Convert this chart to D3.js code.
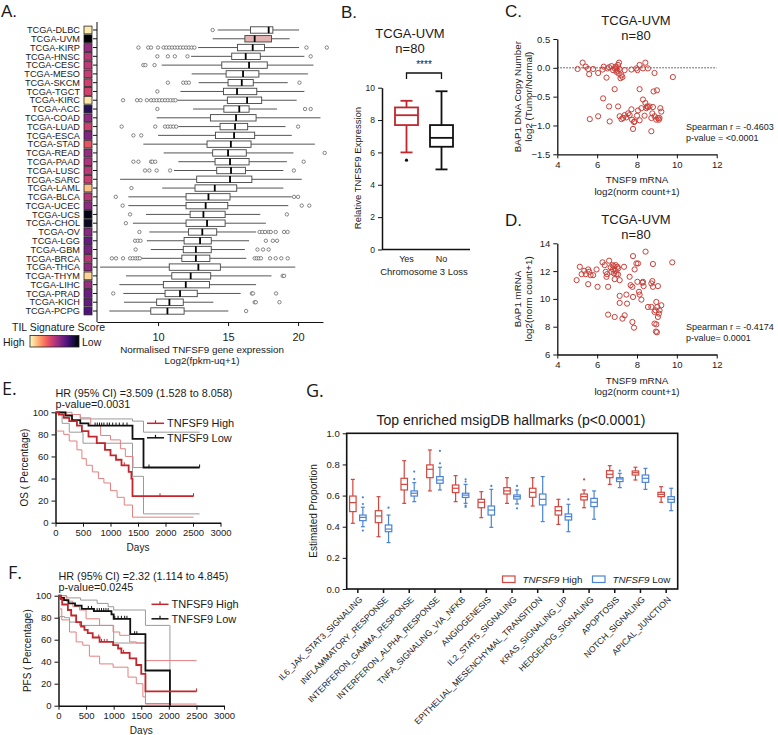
<!DOCTYPE html>
<html>
<head>
<meta charset="utf-8">
<script src="https://cdn.jsdelivr.net/npm/d3@7"></script>
<style>
    body { margin: 0; background: #fff; font-family: "Liberation Sans", Arial, sans-serif; }
    svg text { fill: #1a1a1a; }
    .tick text { font-size: 9.5px; fill: #222; }
    .tick line, .domain { stroke: #111; }
</style>
</head>
<body>
<svg id="fig" width="778" height="735"></svg>
<script>

// ---------- Panel A data ----------
var cancerTypes = ["TCGA-DLBC","TCGA-UVM","TCGA-KIRP","TCGA-HNSC","TCGA-CESC","TCGA-MESO","TCGA-SKCM",
    "TCGA-TGCT","TCGA-KIRC","TCGA-ACC","TCGA-COAD","TCGA-LUAD","TCGA-ESCA","TCGA-STAD","TCGA-READ",
    "TCGA-PAAD","TCGA-LUSC","TCGA-SARC","TCGA-LAML","TCGA-BLCA","TCGA-UCEC","TCGA-UCS","TCGA-CHOL",
    "TCGA-OV","TCGA-LGG","TCGA-GBM","TCGA-BRCA","TCGA-THCA","TCGA-THYM","TCGA-LIHC","TCGA-PRAD",
    "TCGA-KICH","TCGA-PCPG"];
// TIL signature score (0 = low, 1 = high)
var tilScore = [0.96,0.0,0.42,0.51,0.52,0.54,0.56,0.57,0.95,0.16,0.41,0.56,0.37,0.63,0.42,
    0.48,0.51,0.55,0.87,0.51,0.40,0.04,0.07,0.39,0.30,0.35,0.51,0.41,0.91,0.43,0.32,0.30,0.25];
var whiskLo = [14.26,13.9,12.86,12.36,10.26,12.4,12.9,11.6,11.38,12.5,9.9,11.45,10.0,8.95,10.4,
    11.45,11.14,7.29,10.3,7.88,7.88,9.14,8.2,9.38,9.2,9.48,8.8,5.86,7.71,7.24,7.52,7.57,6.52];
var boxQ1 = [16.6,16.2,15.67,15.26,14.55,14.86,15.0,14.67,14.95,14.7,13.74,14.43,14.1,13.5,13.9,
    14.07,14.19,12.76,12.64,12.0,12.0,12.29,12.0,12.17,11.86,11.8,11.7,10.8,10.98,10.38,10.5,9.9,9.48];
var boxMed = [17.9,16.9,16.76,16.26,16.5,16.07,15.98,15.64,16.36,15.8,15.57,15.5,15.43,15.2,15.0,
    15.14,15.21,15.14,14.05,13.6,13.4,13.24,13.5,13.16,13.0,12.7,12.7,12.88,12.33,11.98,11.57,10.81,10.67];
var boxQ3 = [18.2,18.1,17.6,17.3,17.8,17.2,16.8,17.05,17.4,16.5,17.0,16.4,16.9,16.64,16.3,
    16.5,16.24,16.7,15.62,15.14,14.98,14.79,14.79,14.19,13.8,13.8,13.7,14.45,13.76,13.67,12.8,11.8,11.86];
var whiskHi = [20.07,19.4,20.07,20.45,21.1,20.7,19.26,20.45,19.9,18.5,21.6,19.1,19.55,21.2,19.67,
    19.2,18.95,20.26,18.95,19.55,19.3,17.3,17.7,17.0,16.5,16.2,16.3,19.8,18.1,17.0,15.9,13.95,15.02];
var outliersA = [
    [13.9], [],
    [8.6,9.3,9.5,10.0,10.4,10.6,10.8,11.0,11.2,11.4,11.6,11.8,12.0,12.2,12.4,12.6,20.6,22.05],
    [9.95,10.7,11.2,12.1,20.9], [8.95,9.1,9.75], [], [10.7,11.8,12.0,12.2,20.1], [9.95],
    [7.5,8.5,8.75,9.2,9.5,9.7,9.9,10.1,10.3,10.5,10.7,10.9,11.1,11.25], [9.95,20.5,20.9], [],
    [7.4,9.8,10.5,10.7,10.9,11.1,11.3,20.0], [8.24,8.8], [], [21.9],
    [8.24,8.6,9.5,9.6,9.8,20.4], [9.07,9.38,9.9,10.86,19.7], [], [8.1], [6.98,19.71,20.0],
    [7.47,20.26,20.8], [8.0,19.2], [7.7],
    [8.67,17.25,17.45,17.65,17.9,18.05,18.4,19.0,19.25], [8.36,8.55,8.75,17.7,18.2,18.5],
    [8.4,17.1,17.5,17.9],
    [6.7,7.0,7.5,8.0,8.2,8.4,8.55,8.7,16.9,17.05,17.2,17.35,18.0,18.4,18.8,19.26],
    [], [18.9,19.0], [], [6.8,16.7,16.78,18.43], [16.9,16.98,18.67], [16.29]];
var xTicksA = [10, 15, 20];

// ---------- Panel B data ----------
var chr3Groups = ["Yes", "No"];
var chr3Stats = [[6.0,7.69,8.3,8.78,9.19],[4.95,6.35,6.9,7.69,9.78]]; // lo, q1, med, q3, hi
var chr3Outliers = [[5.52], []];

// ---------- Panel C data: TNSF9 mRNA vs BAP1 copy number ----------
var cnTnf = [5.02,5.27,5.43,5.55,5.60,5.80,6.05,6.27,6.33,6.52,6.60,6.72,6.80,6.88,6.92,6.97,6.97,7.02,
    7.05,7.08,7.10,7.13,7.17,7.22,7.27,7.38,7.72,7.97,8.02,8.13,8.30,8.42,8.55,8.88,9.80,6.47,
    6.88,6.30,6.60,7.05,5.63,6.05,6.63,7.13,7.22,7.38,7.55,7.72,7.75,7.80,7.88,8.00,8.05,8.13,
    8.22,8.30,8.38,8.42,8.47,8.55,8.63,8.72,8.80,8.83,8.88,8.97,9.00,9.05,9.13,9.17,9.22,8.72,
    8.77,8.13,7.30,7.85,7.47,7.63,8.50,9.10];
var cnBap1 = [-0.02,0.09,0.02,-0.02,-0.11,-0.02,-0.09,-0.03,0.02,-0.01,0.01,0.03,-0.04,-0.01,0.02,-0.01,
    -0.07,-0.05,0.05,-0.10,0.09,-0.02,-0.18,-0.13,-0.16,-0.04,-0.03,-0.01,-0.04,0.05,-0.01,0.09,-0.01,
    -0.09,-0.16,-0.17,-0.37,-0.53,-0.67,-0.67,-0.89,-0.84,-0.93,-0.84,-0.89,-0.82,-0.79,-0.72,-0.90,
    -1.06,-0.93,-0.83,-0.74,-0.37,-0.70,-0.55,-0.83,-0.61,-0.70,-0.68,-0.67,-0.87,-0.68,-0.41,-0.84,
    -0.90,-0.39,-0.87,-0.87,-0.70,-0.76,-1.10,-0.79,-0.91,-0.87,-0.94,-0.86,-0.82,-0.67,-0.90];

// ---------- Panel D data: TNSF9 mRNA vs BAP1 mRNA ----------
var mrTnf = [4.97,5.13,5.22,5.35,5.43,5.55,5.60,5.67,5.80,5.97,5.55,6.02,6.27,6.38,6.43,6.47,6.50,6.55,
    6.60,6.68,6.72,6.77,6.80,6.83,6.85,6.88,6.92,6.93,6.97,7.02,7.05,7.13,7.05,7.13,7.35,7.13,7.47,
    7.50,7.38,7.63,7.68,7.77,7.80,7.80,7.88,7.97,8.02,8.05,8.10,8.13,8.22,8.27,8.30,8.33,8.43,8.55,
    8.72,8.72,8.77,8.80,8.80,8.88,8.93,8.97,9.02,9.05,9.10,9.13,9.22,8.97,8.88,9.05,9.00,9.77,6.55,
    6.88,7.27,8.95,7.77,7.85];
var mrBap1 = [11.35,12.31,11.78,12.02,11.78,12.12,11.95,11.71,11.71,12.12,11.06,10.87,12.63,12.43,11.95,
    11.59,11.78,10.87,12.75,12.27,11.95,12.43,12.12,12.36,11.83,11.42,12.02,12.43,11.78,12.31,12.19,
    11.35,11.76,10.22,12.31,9.71,10.31,9.66,8.82,11.59,10.99,10.87,13.08,10.14,12.12,12.55,11.23,12.55,
    10.51,10.31,9.95,11.16,11.23,10.92,13.40,9.42,11.11,9.42,11.28,12.51,10.87,9.06,9.18,9.78,9.42,
    10.92,8.94,9.18,9.54,8.17,8.22,8.70,7.60,12.63,8.87,8.70,8.58,7.65,8.34,7.93];

// ---------- Panel E / F data: Kaplan-Meier steps [days, percent] ----------
var osHigh = [[0,100],[60,98],[150,95],[250,92],[390,88],[480,83],[600,78],[750,72],[900,66],[1000,61],
    [1100,57],[1200,52],[1330,46],[1380,40],[1400,24],[2510,24]];
var osHighUpper = [[0,100],[200,98],[450,95],[640,88],[820,79],[1000,75],[1180,67],[1270,60],[1410,50],[2510,50]];
var osHighLower = [[20,83],[150,80],[250,74],[390,66],[480,58],[560,52],[670,46],[780,40],[880,36],[1000,29],
    [1120,23],[1250,16],[1400,5],[2510,5]];
var osLow = [[0,100],[180,97],[300,93],[450,90],[600,88],[1400,76],[1600,50],[2620,50]];
var osLowUpper = [[0,100],[300,98],[450,94],[1400,92],[1600,82],[2620,82]];
var osLowLower = [[0,100],[120,90],[250,82],[500,72],[1400,42],[1600,8],[2620,8]];
var osHighCensor = [900, 1250, 1900, 2510];
var osLowCensor = [720,760,800,840,880,940,980,1040,1100,1160,1230,1300,1700,2620];

var pfsHigh = [[0,100],[36,97],[67,92],[170,87],[230,82],[320,76],[410,72],[470,69],[530,66],[620,62],
    [745,58],[990,55],[1080,52],[1140,48],[1290,43],[1410,37],[1500,29],[1576,13],[2503,13]];
var pfsHighUpper = [[0,100],[140,95],[260,90],[380,87],[500,79],[745,73],[990,67],[1110,64],[1290,58],
    [1410,57],[1576,41],[2503,41]];
var pfsHighLower = [[15,88],[60,78],[200,67],[320,58],[440,55],[560,45],[745,38],[990,35],[1260,26],
    [1410,20],[1530,8],[1576,1.5],[2503,1.5]];
var pfsLow = [[0,100],[40,98],[100,96],[180,93],[300,91],[420,88],[640,86],[960,83],[1000,79],[1300,65],
    [1576,32],[2020,0]];
var pfsLowUpper = [[0,100],[150,98],[400,96],[700,93],[900,90],[1000,87],[1576,73],[2020,0]];
var pfsLowLower = [[0,100],[20,81],[110,80],[200,76],[380,73],[1000,57],[1576,2],[2020,2]];
var pfsHighCensor = [730, 780, 830, 880, 1180, 2503];
var pfsLowCensor = [540,600,650,700,740,780,820,860,900,1020,1080,1140,1200,1240,1380,1420];
var kmDayTicks = [0,500,1000,1500,2000,2500,3000];
var kmPctTicks = [0,20,40,60,80,100];

// ---------- Panel G data ----------
var hallmarks = ["IL6_JAK_STAT3_SIGNALING","INFLAMMATORY_RESPONSE","INTERFERON_GAMMA_RESPONSE",
    "INTERFERON_ALPHA_RESPONSE","TNFA_SIGNALING_VIA_NFKB","ANGIOGENESIS","IL2_STAT5_SIGNALING",
    "EPITHELIAL_MESENCHYMAL_TRANSITION","KRAS_SIGNALING_UP","HEDGEHOG_SIGNALING","APOPTOSIS",
    "NOTCH_SIGNALING","APICAL_JUNCTION"];
var highStats = [[0.422,0.497,0.555,0.597,0.704],[0.336,0.426,0.469,0.503,0.593],[0.550,0.636,0.672,0.711,0.824],
    [0.630,0.715,0.769,0.797,0.893],[0.561,0.619,0.647,0.668,0.728],[0.458,0.522,0.557,0.576,0.625],
    [0.550,0.610,0.630,0.651,0.715],[0.533,0.589,0.621,0.647,0.715],[0.415,0.475,0.503,0.529,0.576],
    [0.522,0.572,0.593,0.610,0.636],[0.672,0.715,0.737,0.760,0.792],[0.700,0.732,0.747,0.758,0.782],
    [0.557,0.593,0.608,0.621,0.657]];
var highOutliers = [[],[],[],[],[],[],[],[],[],[0.704],[],[],[]];
var lowStats = [[0.400,0.439,0.460,0.475,0.525],[0.298,0.368,0.385,0.411,0.475],[0.561,0.597,0.615,0.630,0.683],
    [0.636,0.679,0.700,0.722,0.782],[0.550,0.588,0.603,0.615,0.672],[0.396,0.475,0.507,0.533,0.640],
    [0.546,0.578,0.593,0.604,0.636],[0.433,0.540,0.576,0.610,0.722],[0.368,0.443,0.465,0.482,0.544],
    [0.448,0.529,0.557,0.582,0.630],[0.651,0.690,0.707,0.715,0.743],[0.640,0.685,0.711,0.732,0.775],
    [0.503,0.557,0.576,0.593,0.647]];
var lowOutliers = [[0.589,0.546,0.375],[0.522],[0.754,0.706],[0.887,0.807],[0.705,0.690,0.535,0.527],
    [0.662],[0.662,0.518],[],[0.576],[],[0.760],[],[]];
var gTicks = [0, 0.2, 0.4, 0.6, 0.8, 1.0];

var RED = "#c1272d";
var svg = d3.select("#fig");

function label(x, y, txt, size, anchor) {
    return svg.append("text").attr("x", x).attr("y", y).attr("text-anchor", anchor || "start")
        .style("font-size", size + "px").text(txt);
}
function vlabel(x, y, txt, size) {
    return svg.append("text").attr("transform", "translate(" + x + "," + y + ") rotate(-90)")
        .attr("text-anchor", "middle").style("font-size", size + "px").text(txt);
}

// =================== A ===================
label(1, 17, "A.", 17);
var xA = d3.scaleLinear().domain([5.64, 21.78]).range([97, 323]);
var yA = d3.scaleBand().domain(cancerTypes).range([25.6, 315.4]);
var magmaScore = d3.scaleSequential(d3.interpolateMagma).domain([0, 1]);

svg.selectAll(".rowlab").data(cancerTypes).join("text")
    .attr("x", 80).attr("y", function (d) { return yA(d) + yA.bandwidth() / 2; })
    .attr("dy", "0.35em").attr("text-anchor", "end").style("font-size", "9.2px").text(function (d) { return d; });

svg.selectAll(".cell").data(cancerTypes).join("rect")
    .attr("x", 84).attr("width", 8)
    .attr("y", function (d) { return yA(d) + 0.5; }).attr("height", yA.bandwidth() - 1)
    .attr("fill", function (d, i) { return magmaScore(tilScore[i]); })
    .attr("stroke", "#222").attr("stroke-width", 0.8);

var axA = svg.append("g").attr("transform", "translate(97,0)")
    .call(d3.axisLeft(yA).tickSize(4).tickSizeOuter(0).tickFormat(""));
axA.select(".domain").remove();
svg.append("line").attr("x1", 97).attr("x2", 97).attr("y1", 22).attr("y2", 322).attr("stroke", "#111");
var axAx = svg.append("g").attr("transform", "translate(0,322)")
    .call(d3.axisBottom(xA).tickValues(xTicksA).tickSize(4).tickSizeOuter(0));
axAx.selectAll(".tick text").style("font-size", "11px").attr("dy", "1.1em");

cancerTypes.forEach(function (t, i) {
    var cy = yA(t) + yA.bandwidth() / 2;
    svg.append("line").attr("x1", xA(whiskLo[i])).attr("x2", xA(whiskHi[i]))
        .attr("y1", cy).attr("y2", cy).attr("stroke", "#555").attr("stroke-width", 1);
    svg.append("rect").attr("x", xA(boxQ1[i])).attr("width", xA(boxQ3[i]) - xA(boxQ1[i]))
        .attr("y", cy - 3.2).attr("height", 6.4)
        .attr("fill", t === "TCGA-UVM" ? "#e3b2b2" : "#fff").attr("stroke", "#444").attr("stroke-width", 0.9);
    svg.append("line").attr("x1", xA(boxMed[i])).attr("x2", xA(boxMed[i]))
        .attr("y1", cy - 3.2).attr("y2", cy + 3.2).attr("stroke", "#000").attr("stroke-width", 1.8);
    outliersA[i].forEach(function (v) {
        svg.append("circle").attr("cx", xA(v)).attr("cy", cy).attr("r", 1.7)
            .attr("fill", "#fff").attr("stroke", "#555").attr("stroke-width", 0.7);
    });
});

label(202, 353, "Normalised TNFSF9 gene expression", 9.8, "middle");
label(202, 364, "Log2(fpkm-uq+1)", 9.8, "middle");

// TIL legend
var grad = svg.append("defs").append("linearGradient").attr("id", "tilGrad");
d3.range(0, 1.01, 0.1).forEach(function (s) {
    grad.append("stop").attr("offset", (s * 100) + "%").attr("stop-color", magmaScore(1 - s));
});
label(12, 330.5, "TIL Signature Score", 10.5);
svg.append("rect").attr("x", 30).attr("y", 335.5).attr("width", 49).attr("height", 11.5)
    .attr("fill", "url(#tilGrad)").attr("stroke", "#222").attr("stroke-width", 0.8);
label(3, 345.5, "High", 10.5);
label(82, 345.5, "Low", 10.5);

// box helper (vertical)
function vbox(x, w, s, scale, color, capW, lw) {
    svg.append("line").attr("x1", x).attr("x2", x).attr("y1", scale(s[0])).attr("y2", scale(s[1]))
        .attr("stroke", color).attr("stroke-width", lw);
    svg.append("line").attr("x1", x).attr("x2", x).attr("y1", scale(s[3])).attr("y2", scale(s[4]))
        .attr("stroke", color).attr("stroke-width", lw);
    [s[0], s[4]].forEach(function (v) {
        svg.append("line").attr("x1", x - capW / 2).attr("x2", x + capW / 2).attr("y1", scale(v)).attr("y2", scale(v))
            .attr("stroke", color).attr("stroke-width", lw);
    });
    svg.append("rect").attr("x", x - w / 2).attr("width", w).attr("y", scale(s[3]))
        .attr("height", scale(s[1]) - scale(s[3])).attr("fill", "#fff").attr("stroke", color).attr("stroke-width", lw);
    svg.append("line").attr("x1", x - w / 2).attr("x2", x + w / 2).attr("y1", scale(s[2])).attr("y2", scale(s[2]))
        .attr("stroke", color).attr("stroke-width", lw);
}

// =================== B ===================
label(341, 18, "B.", 17);
label(410, 38, "TCGA-UVM", 13, "middle");
label(410, 53, "n=80", 13, "middle");
var yB = d3.scaleLinear().domain([0, 10]).range([249.5, 87.7]);
var xB = d3.scaleBand().domain(chr3Groups).range([389, 459]);
var axB = svg.append("g").attr("transform", "translate(382,0)")
    .call(d3.axisLeft(yB).ticks(5).tickSize(4).tickSizeOuter(0));
axB.select(".domain").attr("stroke-width", 1.5);
axB.selectAll(".tick text").style("font-size", "8.5px");
svg.append("line").attr("x1", 382).attr("x2", 470).attr("y1", 249.5).attr("y2", 249.5)
    .attr("stroke", "#111").attr("stroke-width", 1.5);
chr3Groups.forEach(function (g, i) {
    var cx = xB(g) + xB.bandwidth() / 2;
    label(cx, 262, g, 9, "middle");
    vbox(cx, 23, chr3Stats[i], yB, i === 0 ? RED : "#111", 12, 1.8);
    chr3Outliers[i].forEach(function (v) {
        svg.append("circle").attr("cx", cx).attr("cy", yB(v)).attr("r", 1.6).attr("fill", "#111");
    });
});
label(424, 275, "Chromosome 3 Loss", 9.5, "middle");
vlabel(361, 168, "Relative TNFSF9 Expression", 9.5);
svg.append("path").attr("d", "M" + (xB("Yes") + 17.5) + ",79V73H" + (xB("No") + 17.5) + "V79")
    .attr("fill", "none").attr("stroke", "#111").attr("stroke-width", 1.3);
label(424, 68, "****", 10, "middle");

// =================== C / D ===================
var xCD = d3.scaleLinear().domain([4, 12]).range([557.3, 716.7]);
function scatter(tag, tagY, titleY, yScale, yTicks, fmt, xs, ys, ylab1, ylab2, stat1, stat2, statY) {
    var y0 = yScale.range()[0], y1 = yScale.range()[1];
    label(505, tagY, tag, 17);
    label(636, titleY, "TCGA-UVM", 13, "middle");
    label(636, titleY + 15, "n=80", 13, "middle");
    var ay = svg.append("g").attr("transform", "translate(557.3,0)")
        .call(d3.axisLeft(yScale).tickValues(yTicks).tickFormat(d3.format(fmt)).tickSize(4).tickSizeOuter(0));
    ay.select(".domain").attr("stroke-width", 1.3);
    var ax = svg.append("g").attr("transform", "translate(0," + y0 + ")")
        .call(d3.axisBottom(xCD).tickValues([4, 6, 8, 10, 12]).tickSize(4).tickSizeOuter(0));
    ax.select(".domain").attr("stroke-width", 1.3);
    label(637, y0 + 29, "TNSF9 mRNA", 9.8, "middle");
    label(637, y0 + 40.5, "log2(norm count+1)", 9.8, "middle");
    var cy = (y0 + y1) / 2;
    vlabel(521, cy, ylab1, 9.8);
    vlabel(531.5, cy, ylab2, 9.8);
    svg.append("g").selectAll("circle").data(xs).join("circle")
        .attr("cx", function (d) { return xCD(d); }).attr("cy", function (d, i) { return yScale(ys[i]); })
        .attr("r", 2.6).attr("fill", "none").attr("stroke", "#c9403a").attr("stroke-width", 1);
    label(686, statY, stat1, 9);
    label(686, statY + 11, stat2, 9);
}
var yC = d3.scaleLinear().domain([-1.5, 0.5]).range([154.3, 39]);
svg.append("line").attr("x1", 557.3).attr("x2", 716.7).attr("y1", yC(0)).attr("y2", yC(0))
    .attr("stroke", "#444").attr("stroke-dasharray", "1.5,1.5");
scatter("C.", 17, 25, yC, [-1.5, -1, -0.5, 0, 0.5], ".1f", cnTnf, cnBap1,
    "BAP1 DNA Copy Number", "log2 (Tumor/Normal)", "Spearman r = -0.4603", "p-value = <0.0001", 130);
var yD = d3.scaleLinear().domain([6, 14]).range([354.5, 243.3]);
scatter("D.", 226, 224, yD, [6, 8, 10, 12, 14], "d", mrTnf, mrBap1,
    "BAP1 mRNA", "log2(norm count+1)", "Spearman r = -0.4174", "p-value= 0.0001", 330);

// =================== E / F ===================
function stepAt(curve, day) {
    var v = curve[0][1];
    curve.forEach(function (p) { if (p[0] <= day) v = p[1]; });
    return v;
}
function km(tag, tagX, tagY, hr, pv, textY, xr, yr, curves, censors, ylab, legX, legY) {
    var xs = d3.scaleLinear().domain([0, 3000]).range(xr);
    var ys = d3.scaleLinear().domain([0, 100]).range(yr);
    label(tagX, tagY, tag, 18).style("font-family", "'Open Sans', sans-serif");
    label(xr[0], textY, hr, 10.8);
    label(xr[0], textY + 10.8, pv, 10.8);
    var ay = svg.append("g").attr("transform", "translate(" + xr[0] + ",0)")
        .call(d3.axisLeft(ys).tickValues(kmPctTicks).tickSize(4).tickSizeOuter(0));
    ay.select(".domain").attr("stroke-width", 1.5);
    var ax = svg.append("g").attr("transform", "translate(0," + yr[0] + ")")
        .call(d3.axisBottom(xs).tickValues(kmDayTicks).tickFormat(d3.format("d")).tickSize(4).tickSizeOuter(0));
    ax.select(".domain").attr("stroke-width", 1.5);
    label((xr[0] + xr[1]) / 2, yr[0] + 28, "Days", 10, "middle");
    vlabel(xr[0] - 28, (yr[0] + yr[1]) / 2, ylab, 10);
    var line = d3.line().x(function (d) { return xs(d[0]); }).y(function (d) { return ys(d[1]); })
        .curve(d3.curveStepAfter);
    var styles = [["#9a9a9a", 1], ["#9a9a9a", 1], ["#e58080", 1], ["#e58080", 1], ["#111", 1.8], [RED, 1.8]];
    curves.forEach(function (c, i) {
        svg.append("path").attr("d", line(c)).attr("fill", "none")
            .attr("stroke", styles[i][0]).attr("stroke-width", styles[i][1]);
    });
    [[censors[0], curves[5], RED], [censors[1], curves[4], "#111"]].forEach(function (cs) {
        cs[0].forEach(function (d) {
            var y = ys(stepAt(cs[1], d));
            svg.append("line").attr("x1", xs(d)).attr("x2", xs(d)).attr("y1", y - 3).attr("y2", y)
                .attr("stroke", cs[2]).attr("stroke-width", 1);
        });
    });
    [["TNFSF9 High", RED], ["TNFSF9 Low", "#111"]].forEach(function (l, i) {
        var ly = legY + i * 14.5;
        svg.append("line").attr("x1", legX).attr("x2", legX + 17).attr("y1", ly).attr("y2", ly)
            .attr("stroke", l[1]).attr("stroke-width", 1.5);
        svg.append("line").attr("x1", legX + 8.5).attr("x2", legX + 8.5).attr("y1", ly - 3).attr("y2", ly)
            .attr("stroke", l[1]).attr("stroke-width", 1.2);
        label(legX + 20, ly + 4, l[0], 11);
    });
}
km("E.", 2, 395, "HR (95% CI) =3.509 (1.528 to 8.058)", "p-value=0.0031", 397,
    [55.5, 220.5], [522.7, 412.3],
    [osLowUpper, osLowLower, osHighUpper, osHighLower, osLow, osHigh],
    [osHighCensor, osLowCensor], "OS ( Percentage)", 147, 423.3);
km("F.", 8, 579, "HR (95% CI) =2.32 (1.114 to 4.845)", "p-value=0.0245", 580,
    [58.5, 224], [705.7, 595.7],
    [pfsLowUpper, pfsLowLower, pfsHighUpper, pfsHighLower, pfsLow, pfsHigh],
    [pfsHighCensor, pfsLowCensor], "PFS ( Percentage)", 151.5, 604.3);

// =================== G ===================
var GRED = "#d4463d", GBLUE = "#4b84d6";
label(306, 397, "G.", 18).style("font-family", "'Open Sans', sans-serif");
label(511, 425, "Top enriched msigDB hallmarks (p<0.0001)", 14, "middle");
var xG = d3.scaleBand().domain(hallmarks).range([345, 679]);
var yG = d3.scaleLinear().domain([0, 1]).range([589, 433.3]);
var ayG = svg.append("g").attr("transform", "translate(346.7,0)")
    .call(d3.axisLeft(yG).tickValues(gTicks).tickFormat(d3.format(".1f")).tickSize(4).tickSizeOuter(0));
ayG.select(".domain").remove();
var axG = svg.append("g").attr("transform", "translate(0,589)")
    .call(d3.axisBottom(xG).tickSize(4).tickSizeOuter(0));
axG.select(".domain").remove();
axG.selectAll(".tick line").attr("stroke-width", 1.5);
axG.selectAll(".tick text")
    .attr("text-anchor", "end").attr("dy", "0.35em").attr("y", 0)
    .attr("transform", "translate(3,9) rotate(-45)").style("font-size", "8.6px");
svg.append("rect").attr("x", 346.7).attr("y", 433.3).attr("width", 331).attr("height", 155.7)
    .attr("fill", "none").attr("stroke", "#111").attr("stroke-width", 1.6);
vlabel(317, 511, "Estimated Proportion", 10);

hallmarks.forEach(function (h, i) {
    var cx = xG(h) + xG.bandwidth() / 2;
    [[highStats[i], highOutliers[i], GRED, cx - 5], [lowStats[i], lowOutliers[i], GBLUE, cx + 5]].forEach(function (b) {
        vbox(b[3], 6.5, b[0], yG, b[2], 4, 1.2);
        b[1].forEach(function (v) {
            svg.append("circle").attr("cx", b[3]).attr("cy", yG(v)).attr("r", 1.1).attr("fill", b[2]);
        });
    });
});
[["High", GRED, 502.5], ["Low", GBLUE, 592.5]].forEach(function (l) {
    svg.append("rect").attr("x", l[2]).attr("y", 576).attr("width", 12.5).attr("height", 6.5)
        .attr("fill", "none").attr("stroke", l[1]).attr("stroke-width", 1.2);
    var t = svg.append("text").attr("x", l[2] + 20).attr("y", 583).style("font-size", "9.8px");
    t.append("tspan").style("font-style", "italic").text("TNFSF9");
    t.append("tspan").text(" " + l[0]);
});

</script>
</body>
</html>
